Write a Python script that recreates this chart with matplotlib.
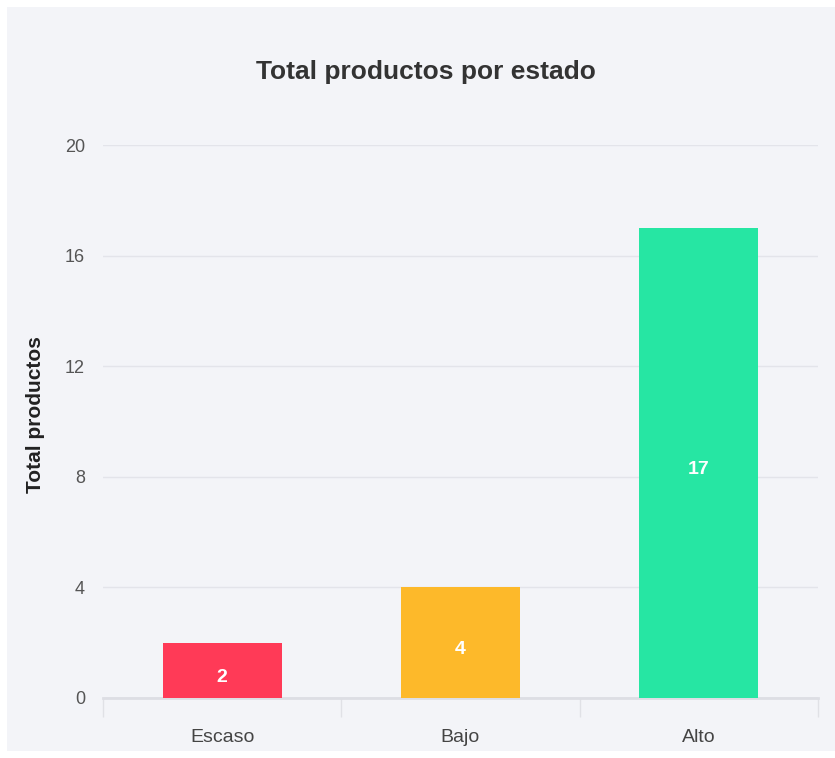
import matplotlib.pyplot as plt
from matplotlib.patches import Rectangle

categorias = ['Escaso', 'Bajo', 'Alto']
totales = [2, 4, 17]
colores = ['#FF3A57', '#FDB92A', '#26E6A3']
yticks = [0, 4, 8, 12, 16, 20]

plt.rcParams['font.family'] = ['Liberation Sans', 'DejaVu Sans']

fig = plt.figure(figsize=(8.35, 7.58), dpi=100)
fig.patch.set_facecolor('white')
# panel background
fig.patches.append(Rectangle((7 / 835, 1 - 751 / 758), 1 - 7 / 835, 744 / 758,
                             transform=fig.transFigure, facecolor='#F3F4F8',
                             edgecolor='none', zorder=-10))

ax = fig.add_axes([103 / 835, 1 - 698 / 758, 715 / 835, 553 / 758])
ax.set_facecolor('none')
ax.set_zorder(1)

x = range(len(categorias))
bars = ax.bar(x, totales, width=0.5, color=colores, zorder=3)
for b, v in zip(bars, totales):
    ax.annotate(str(v), (b.get_x() + b.get_width() / 2, v / 2), xytext=(0, -5),
                textcoords='offset points', ha='center', va='center',
                color='white', fontsize=14, fontweight='bold', zorder=4)

ax.set_xlim(-0.5, 2.5)
ax.set_ylim(0, 20)
ax.set_yticks(yticks)
ax.set_xticks(list(x))
ax.set_xticklabels(categorias)
ax.set_xticks([-0.5, 0.5, 1.5, 2.5], minor=True)
ax.tick_params(axis='x', which='major', length=0, pad=22, labelsize=14, labelcolor='#444444')
ax.tick_params(axis='x', which='minor', length=14, width=1, color='#E0E1E6')
ax.tick_params(axis='y', length=0, pad=13, labelsize=13, labelcolor='#555555')

ax.grid(axis='y', color='#E3E4EA', linewidth=1, zorder=0)
for s in ['top', 'right', 'left']:
    ax.spines[s].set_visible(False)
ax.spines['bottom'].set_color('#DDDEE4')
ax.spines['bottom'].set_linewidth(2)

ax.set_ylabel('Total productos', fontsize=15, fontweight='bold', color='#222222')
ax.yaxis.set_label_coords(-58 / 715, 0.512)

fig.text(426 / 835, 1 - 72 / 758, 'Total productos por estado', ha='center', va='center',
         fontsize=19, fontweight='bold', color='#333333')

fig.savefig('out.png', dpi=100)
